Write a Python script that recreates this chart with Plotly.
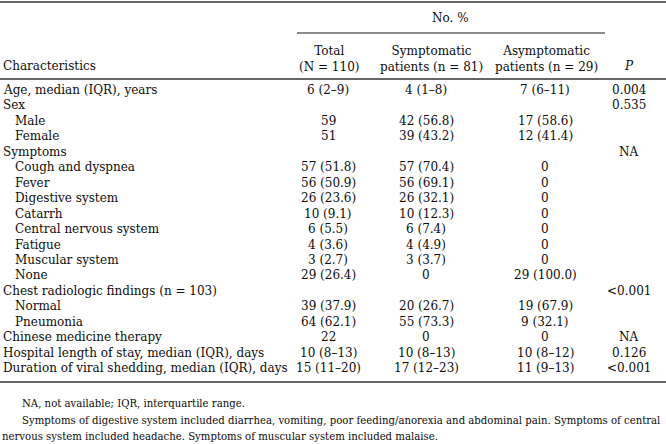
import plotly.graph_objects as go

characteristics = [
    "Age, median (IQR), years", "Sex", "Male", "Female", "Symptoms",
    "Cough and dyspnea", "Fever", "Digestive system", "Catarrh",
    "Central nervous system", "Fatigue", "Muscular system", "None",
    "Chest radiologic findings (n = 103)", "Normal", "Pneumonia",
    "Chinese medicine therapy", "Hospital length of stay, median (IQR), days",
    "Duration of viral shedding, median (IQR), days",
]
indented = [0, 0, 1, 1, 0, 1, 1, 1, 1, 1, 1, 1, 1, 0, 1, 1, 0, 0, 0]
total = ["6 (2–9)", "", "59", "51", "", "57 (51.8)", "56 (50.9)", "26 (23.6)",
         "10 (9.1)", "6 (5.5)", "4 (3.6)", "3 (2.7)", "29 (26.4)", "",
         "39 (37.9)", "64 (62.1)", "22", "10 (8–13)", "15 (11–20)"]
symptomatic = ["4 (1–8)", "", "42 (56.8)", "39 (43.2)", "", "57 (70.4)",
               "56 (69.1)", "26 (32.1)", "10 (12.3)", "6 (7.4)", "4 (4.9)",
               "3 (3.7)", "0", "", "20 (26.7)", "55 (73.3)", "0", "10 (8–13)",
               "17 (12–23)"]
asymptomatic = ["7 (6–11)", "", "17 (58.6)", "12 (41.4)", "", "0", "0", "0",
                "0", "0", "0", "0", "29 (100.0)", "", "19 (67.9)", "9 (32.1)",
                "0", "10 (8–12)", "11 (9–13)"]
p_values = ["0.004", "0.535", "", "", "NA", "", "", "", "", "", "", "", "",
            "<0.001", "", "", "NA", "0.126", "<0.001"]

group_header = "No. %"
col_headers = ["Total<br>(N = 110)", "Symptomatic<br>patients (n = 81)",
               "Asymptomatic<br>patients (n = 29)"]
first_header = "Characteristics"
p_header = "<i>P</i>"
footnotes = [
    "NA, not available; IQR, interquartile range.",
    "Symptoms of digestive system included diarrhea, vomiting, poor feeding/anorexia and abdominal pain. Symptoms of central",
    "nervous system included headache. Symptoms of muscular system included malaise.",
]

FONT = "DejaVu Serif"
TXT = "#0d0d0d"
LINE = "#666666"
FS = 12
FN = 10.15

fig = go.Figure()
fig.add_trace(go.Scatter(x=[0, 666], y=[0, 444], mode="markers",
                         marker=dict(opacity=0), hoverinfo="skip", showlegend=False))

ann = []
def add(x, y, text, anchor="left", size=FS):
    ann.append(dict(x=x, y=y, text=text, xref="x", yref="y", showarrow=False,
                    xanchor=anchor, yanchor="middle",
                    font=dict(family=FONT, size=size, color=TXT)))

y0, dy = 90, 15.45
col_x = [328, 426, 545]
p_x = 629
for i, name in enumerate(characteristics):
    y = y0 + i * dy
    add(1 + 12 * indented[i], y, name)
    for cx, col in zip(col_x, [total, symptomatic, asymptomatic]):
        if col[i]:
            add(cx, y, col[i], "center")
    if p_values[i]:
        add(p_x, y, p_values[i], "center")

add(450, 18, group_header, "center")
for cx, h in zip([329, 431, 546], col_headers):
    ann.append(dict(x=cx, y=59, text=h, xref="x", yref="y", showarrow=False,
                    xanchor="center", yanchor="middle", align="center",
                    font=dict(family=FONT, size=FS, color=TXT)))
add(1, 66, first_header)
add(p_x, 66, p_header, "center")

add(20, 403, footnotes[0], size=FN)
add(20, 420, footnotes[1], size=FN)
add(0, 436, footnotes[2], size=FN)

shapes = []
def hline(x0, x1, y, w):
    shapes.append(dict(type="line", xref="x", yref="y", x0=x0, x1=x1, y0=y, y1=y,
                       line=dict(color=LINE, width=w)))
hline(0, 666, 2, 2)
hline(297, 605, 33, 1.5)
hline(0, 666, 79, 2)
hline(0, 666, 382, 2)

fig.update_layout(
    width=666, height=444, margin=dict(l=0, r=0, t=0, b=0),
    paper_bgcolor="white", plot_bgcolor="white",
    xaxis=dict(range=[0, 666], visible=False, fixedrange=True),
    yaxis=dict(range=[444, 0], visible=False, fixedrange=True),
    annotations=ann, shapes=shapes,
)
fig.write_html("out.html", config={"displayModeBar": False},
               post_script="document.body.style.margin='0px';")
